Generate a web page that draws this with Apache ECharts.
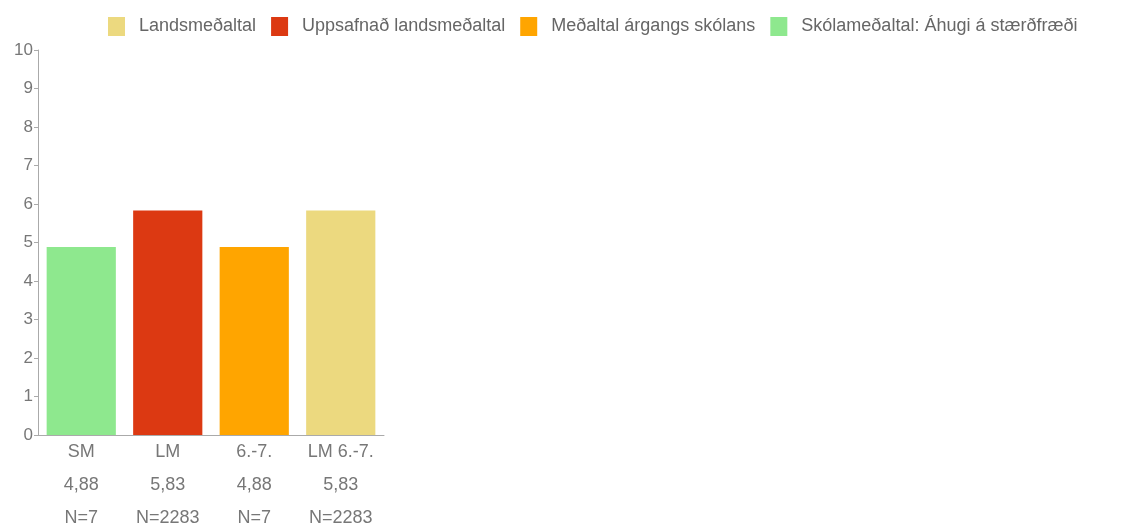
<!DOCTYPE html>
<html>
<head>
<meta charset="utf-8">
<script src="https://cdn.jsdelivr.net/npm/echarts@6/dist/echarts.min.js"></script>
<style>
html,body{margin:0;padding:0;background:#fff;}
#chart{width:1122px;height:528px;}
</style>
</head>
<body>
<div id="chart"></div>
<script>
var categories = ['SM', 'LM', '6.-7.', 'LM 6.-7.'];
var values = [4.88, 5.83, 4.88, 5.83];
var counts = [7, 2283, 7, 2283];
var seriesNames = ['Landsmeðaltal', 'Uppsafnað landsmeðaltal', 'Meðaltal árgangs skólans', 'Skólameðaltal: Áhugi á stærðfræði'];
// which category each series draws
var seriesCategory = [3, 1, 2, 0];
var colors = ['#ecd97f', '#dc3912', '#ffa500', '#8ee88e'];
var yTicks = [0, 10, 1];

var labels = [];
for (var i = 0; i < categories.length; i++) {
    labels.push(categories[i] + '\n' + values[i].toFixed(2).replace('.', ',') + '\nN=' + counts[i]);
}

var series = [];
for (var s = 0; s < seriesNames.length; s++) {
    var d = [];
    for (var j = 0; j < categories.length; j++) {
        d.push(j === seriesCategory[s] ? values[j] : null);
    }
    series.push({
        name: seriesNames[s],
        type: 'bar',
        stack: 'all',
        barWidth: '80%',
        itemStyle: {color: colors[s]},
        data: d
    });
}

var myChart = echarts.init(document.getElementById('chart'));
var option = {
    animation: false,
    textStyle: {fontFamily: 'Liberation Sans, Arial, sans-serif'},
    legend: {
        left: 103,
        top: 12,
        itemWidth: 17,
        itemHeight: 19,
        itemGap: 15,
        icon: 'rect',
        textStyle: {color: '#666', fontSize: 18, padding: [0, 0, 0, 9]},
        data: seriesNames
    },
    grid: {left: 38, right: 738, top: 50, bottom: 93, outerBoundsMode: 'none'},
    xAxis: {
        type: 'category',
        data: labels,
        axisLine: {lineStyle: {color: '#aaa'}},
        axisTick: {alignWithLabel: true, length: 4, lineStyle: {color: '#aaa'}},
        axisLabel: {color: '#777', fontSize: 18, lineHeight: 33, margin: 1}
    },
    yAxis: {
        type: 'value',
        min: yTicks[0],
        max: yTicks[1],
        interval: yTicks[2],
        splitLine: {show: false},
        axisLine: {show: true, lineStyle: {color: '#aaa'}},
        axisTick: {show: true, length: 4, lineStyle: {color: '#aaa'}},
        axisLabel: {color: '#777', fontSize: 17, margin: 5}
    },
    series: series
};
myChart.setOption(option);
</script>
</body>
</html>
